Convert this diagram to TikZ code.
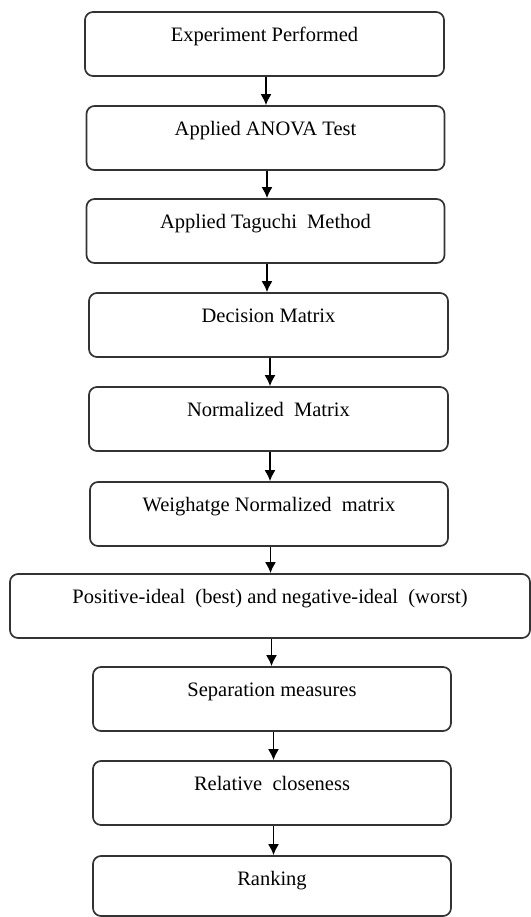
\documentclass[tikz,border=0pt]{standalone}
\usepackage{fontspec}
\setmainfont{Liberation Serif}
\usetikzlibrary{arrows.meta}

\tikzset{
	stepbox/.style={draw=black!80, line width=1.7pt, rounded corners=8pt,
		minimum width=#1, inner xsep=0pt, inner ysep=15.5pt,
		text height=14pt, text depth=19pt, font=\fontsize{20.5}{24}\selectfont},
	stepbox/.default=358pt,
	flow/.style={->, line width=1.6pt},
}

\begin{document}
\begin{tikzpicture}[x=1pt, y=-1pt, >={Latex[length=11pt,width=11pt]}]
	\useasboundingbox (0,0) rectangle (530,917);

	\node[stepbox=359pt] (exp) at (264.5, 44) {Experiment Performed};
	\node[stepbox] (anova) at (265.5, 138) {Applied ANOVA Test};
	\node[stepbox] (taguchi) at (265.5, 231) {Applied Taguchi\ \ Method};
	\node[stepbox=359pt] (decision) at (268.5, 325) {Decision Matrix};
	\node[stepbox=359pt] (normal) at (268.5, 419) {Normalized\ \ Matrix};
	\node[stepbox] (weight) at (269, 514) {Weighatge Normalized\ \ matrix};
	\node[stepbox=520pt] (ideal) at (270, 606) {Positive-ideal\ \ (best) and negative-ideal\ \ (worst)};
	\node[stepbox] (sep) at (272, 699) {Separation measures};
	\node[stepbox] (close) at (272, 793) {Relative\ \ closeness};
	\node[stepbox, text depth=15pt] (rank) at (272, 886) {Ranking};

	% arrows between the steps
	\foreach \a/\b in {exp/anova, anova/taguchi, taguchi/decision, decision/normal,
			normal/weight, weight/ideal, ideal/sep, sep/close, close/rank}{
			\draw[flow] ([xshift=1.5pt]\a.south) -- ([xshift=1.5pt]\a.south |- \b.north);
		}
\end{tikzpicture}
\end{document}
